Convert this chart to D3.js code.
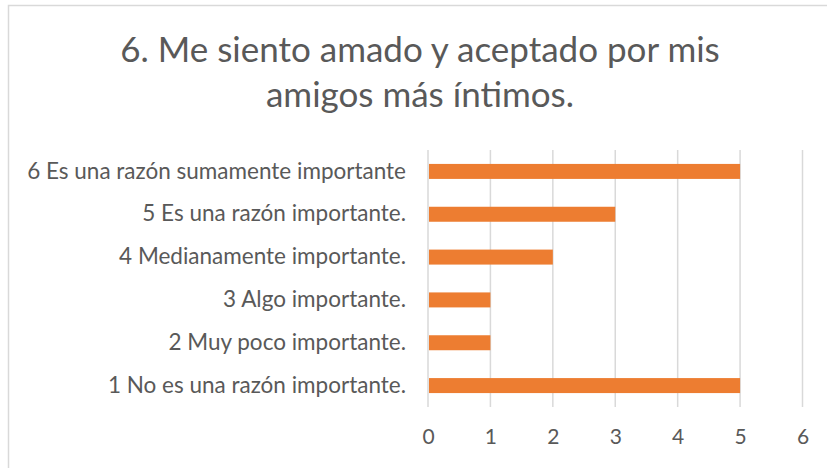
<!DOCTYPE html>
<html>
<head>
<meta charset="utf-8">
<script src="https://cdn.jsdelivr.net/npm/d3@7"></script>
<style>
  body { margin: 0; background: #fff; }
  text { font-family: Lato, "Open Sans", sans-serif; fill: #595959; }
</style>
</head>
<body>
<svg id="chart"></svg>
<script>
const titleLines = ["6. Me siento amado y aceptado por mis", "amigos más íntimos."];
const categories = [
	"6 Es una razón sumamente importante",
	"5 Es una razón importante.",
	"4 Medianamente importante.",
	"3 Algo importante.",
	"2 Muy poco importante.",
	"1 No es una razón importante.",
];
const values = [5, 3, 2, 1, 1, 5];
const xTicks = [0, 1, 2, 3, 4, 5, 6];

const size = { w: 827, h: 468 };
const plot = { l: 428, r: 802.5, t: 150, b: 407 };

const svg = d3.select("svg#chart").attr("width", size.w).attr("height", size.h);

// chart frame (cut off at right / bottom like the reference)
svg.append("rect")
	.attr("x", 8.5)
	.attr("y", 5.5)
	.attr("width", 900)
	.attr("height", 600)
	.attr("fill", "none")
	.attr("stroke", "#d9d9d9")
	.attr("stroke-width", 1.5);

// title
svg.append("g")
	.classed("title", true)
	.selectAll("text")
	.data(titleLines)
	.join("text")
	.attr("x", 420)
	.attr("y", (d, i) => 62 + i * 45)
	.attr("text-anchor", "middle")
	.style("font-size", "35px")
	.text((d) => d);

const xScale = d3.scaleLinear().domain([0, 6]).range([plot.l, plot.r]);
const yScale = d3.scaleBand()
	.domain(categories)
	.range([plot.t, plot.b])
	.paddingInner(0.65)
	.paddingOuter(0.325);

// gridlines
svg.append("g")
	.classed("grid", true)
	.selectAll("line")
	.data(xTicks)
	.join("line")
	.attr("x1", (d) => xScale(d))
	.attr("x2", (d) => xScale(d))
	.attr("y1", plot.t)
	.attr("y2", plot.b)
	.attr("stroke", "#d9d9d9")
	.attr("stroke-width", 1.5);

// bars
svg.append("g")
	.classed("bars", true)
	.selectAll("rect")
	.data(values)
	.join("rect")
	.attr("x", xScale(0) + 1)
	.attr("y", (d, i) => yScale(categories[i]))
	.attr("width", (d) => xScale(d) - xScale(0) - 1)
	.attr("height", yScale.bandwidth())
	.attr("fill", "#ed7d31");

// x axis labels
const xAxis = svg.append("g")
	.attr("transform", `translate(0, ${plot.b})`)
	.call(d3.axisBottom(xScale).tickValues(xTicks).tickFormat(d3.format("d")).tickSize(0).tickPadding(22));
xAxis.select(".domain").remove();
xAxis.selectAll("text")
	.style("font-size", "21px")
	.style("font-family", "Lato, sans-serif")
	.attr("fill", "#595959");

// y axis labels
const yAxis = svg.append("g")
	.attr("transform", `translate(${plot.l - 22}, 0)`)
	.call(d3.axisLeft(yScale).tickSize(0).tickPadding(0));
yAxis.select(".domain").remove();
yAxis.selectAll("text")
	.style("font-size", "22.5px")
	.style("font-family", "Lato, sans-serif")
	.attr("fill", "#595959");
</script>
</body>
</html>
